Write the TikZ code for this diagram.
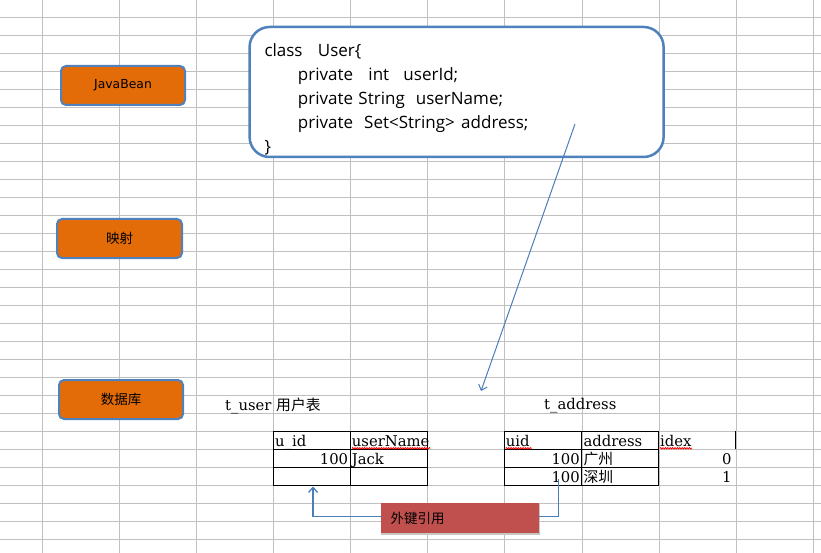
\documentclass[tikz,border=0pt]{standalone}
\usepackage{fontspec}
\setmainfont{DejaVu Serif}
\newfontfamily\cjk{Noto Sans CJK SC}
\newfontfamily\osans{Open Sans}
\newfontfamily\dsans{DejaVu Sans}
\usetikzlibrary{arrows.meta,decorations.pathmorphing}
\definecolor{gridgray}{HTML}{C0C0C0}
\definecolor{boxblue}{HTML}{4F81BD}
\definecolor{orangefill}{HTML}{E36C09}
\definecolor{redfill}{HTML}{C0504D}
\definecolor{arrowblue}{HTML}{4A7EBB}
\begin{document}
\begin{tikzpicture}[x=1pt,y=-1pt,
  gridline/.style={draw=gridgray, line width=1pt},
  orangebox/.style={draw=boxblue, line width=2pt, fill=orangefill, rounded corners=5pt,
    minimum width=124pt, minimum height=39pt, inner sep=0pt},
  labeltext/.style={font=\dsans\fontsize{12.4}{14}\selectfont},
  cjklabel/.style={font=\cjk\fontsize{13.5}{15}\selectfont},
  classbox/.style={draw=boxblue, line width=2.5pt, fill=white, rounded corners=20pt,
    minimum width=414pt, minimum height=130pt, inner sep=0pt},
  codetext/.style={font=\osans\fontsize{17}{20}\selectfont, anchor=base west, inner sep=0pt},
  celltext/.style={font=\fontsize{14.8}{16}\selectfont, inner sep=0pt},
  tableline/.style={draw=black, line width=1pt},
  squiggle/.style={draw=red, line width=0.8pt, decorate,
    decoration={zigzag, segment length=2.4pt, amplitude=0.7pt}},
  connector/.style={draw=arrowblue, line width=1.3pt},
  tip/.style={-{Straight Barb[length=5pt,width=9pt]}},
  redbox/.style={fill=redfill, minimum height=30.7pt, text width=139pt, align=left,
    inner xsep=9.7pt, inner ysep=0pt, font=\cjk\fontsize{13.5}{15}\selectfont}
]
\useasboundingbox (0,0) rectangle (821,553);
\fill[white] (0,0) rectangle (821,553);
% grid
\foreach \k in {0,...,10} {\draw[gridline] (42.3+77.1*\k,0) -- (42.3+77.1*\k,553);}
\foreach \k in {0,...,29} {\draw[gridline] (0,17.3+18*\k) -- (821,17.3+18*\k);}

% left labels
\node[orangebox, labeltext] (javabean) at (123,85.5) {JavaBean};
\node[orangebox, cjklabel, minimum width=125pt] (mapping) at (119.5,238.5) {映射};
\node[orangebox, cjklabel] (database) at (121,399.5) {数据库};

% class box
\node[classbox] (classbox) at (456.6,92) {};
\node[codetext] (c1) at (264.3,56.7) {\makebox[53.4pt][l]{class}User\{};
\node[codetext] (c2) at (297.7,80.7) {\makebox[70.6pt][l]{private}\makebox[35pt][l]{int}userId;};
\node[codetext] (c3) at (297.7,104.7) {\makebox[60.6pt][l]{private}\makebox[57.4pt][l]{String}userName;};
\node[codetext] (c4) at (297.7,128.7) {\makebox[66.3pt][l]{private}\makebox[97pt][l]{Set<String>}address;};
\node[codetext] (c5) at (264.3,152.7) {\}};

% table titles
\node[celltext, anchor=base west] (tusertitle) at (225,410.5) {t\_user {\cjk 用户表}};
\node[celltext, anchor=base west] (taddrtitle) at (544,409.3) {t\_address};

% table 1
\draw[tableline] (273.3,431.3) rectangle (427.7,485.3);
\draw[tableline] (273.3,449.3) -- (427.7,449.3);
\draw[tableline] (273.3,467.3) -- (427.7,467.3);
\draw[tableline] (350.5,431.3) -- (350.5,485.3);
\node[celltext, anchor=base west] (uid1) at (275,446) {u\_id};
\node[celltext, anchor=base west] (uname) at (351.7,446) {userName};
\node[celltext, anchor=base east] (v100a) at (348.3,464) {100};
\node[celltext, anchor=base west] (jack) at (351.7,464) {Jack};
\draw[squiggle] (352,448.3) -- (430,448.3);

% table 2
\draw[tableline] (504.3,431.3) rectangle (658.7,485.3);
\draw[tableline] (504.3,449.3) -- (658.7,449.3);
\draw[tableline] (504.3,467.3) -- (658.7,467.3);
\draw[tableline] (581.7,431.3) -- (581.7,485.3);
\draw[tableline] (735.7,431.3) -- (735.7,449.3);
\node[celltext, anchor=base west] (uid2) at (505.7,446) {uid};
\node[celltext, anchor=base west] (addr) at (583.3,446) {address};
\node[celltext, anchor=base west] (idex) at (660,446) {idex};
\node[celltext, anchor=base east] (v100b) at (580,464) {100};
\node[celltext, anchor=base west, font=\cjk\fontsize{14.8}{16}\selectfont] (gz) at (583.3,464) {广州};
\node[celltext, anchor=base east] (v0) at (731.7,464) {0};
\node[celltext, anchor=base east] (v100c) at (580,482) {100};
\node[celltext, anchor=base west, font=\cjk\fontsize{14.8}{16}\selectfont] (sz) at (583.3,482) {深圳};
\node[celltext, anchor=base east] (v1) at (731.7,482) {1};
\draw[squiggle] (505.7,448.3) -- (532,448.3);
\draw[squiggle] (660,448.3) -- (692,448.3);

% foreign key box
\node[redbox] (fk) at (460,518.65) {外键引用};
\draw[draw=gray!45, line width=1.5pt] (fk.north east) -- (fk.south east) -- (fk.south west);

% connectors
\coordinate (arrstart) at (575,124);
\coordinate (arrend) at (481,391);
\draw[draw=arrowblue, line width=1pt, tip] (arrstart) -- (arrend);
\coordinate (fkup) at (313,486.5);
\coordinate (fkright) at (558.3,479);
\draw[connector, tip] ([yshift=2pt]fk.west) -| (fkup);
\draw[connector] ([yshift=2pt]fk.east) -| (fkright);
\end{tikzpicture}
\end{document}
